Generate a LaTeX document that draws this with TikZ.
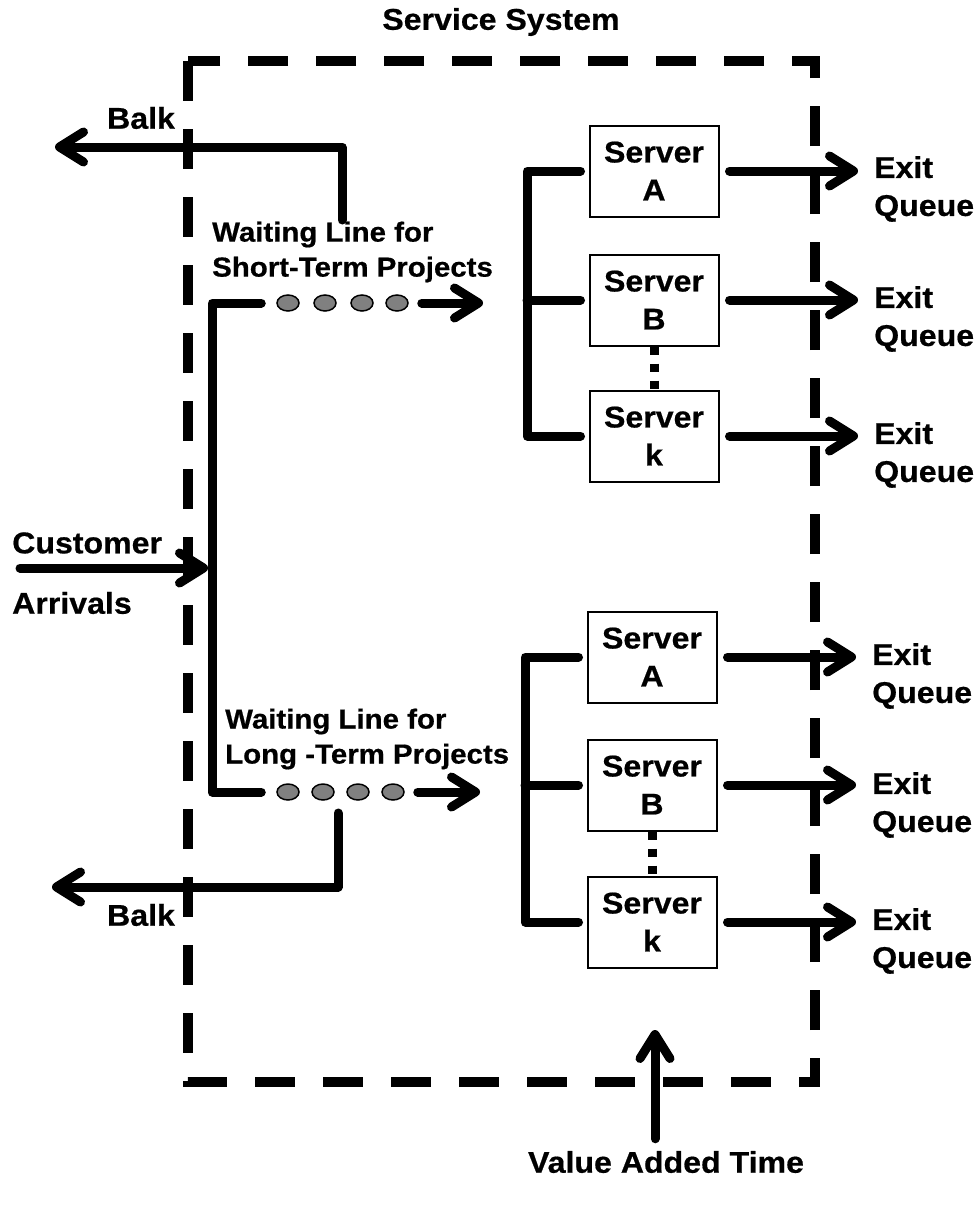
\documentclass[tikz,border=0pt]{standalone}
\usepackage{fontspec}
\setmainfont{Liberation Sans}[FakeStretch=1.07, BoldFeatures={FakeBold=0.6}]
\usetikzlibrary{arrows.meta,shapes.geometric}
\definecolor{qgray}{RGB}{128,128,128}
\begin{document}
\begin{tikzpicture}[x=1pt,y=-1pt,
  txt/.style={font=\fontsize{30}{38}\selectfont\bfseries, inner sep=0pt},
  line/.style={line width=9pt, line cap=round, line join=round},
  arr/.style={line, -{Straight Barb[length=24pt,width=30pt,line cap=round,line join=round]}},
  server/.style={draw, line width=2pt, minimum width=129pt, minimum height=91pt, align=center,
    font=\fontsize{30}{38}\selectfont\bfseries, inner sep=0pt},
  qdot/.style={ellipse, draw, line width=1.5pt, fill=qgray, minimum width=22pt, minimum height=16pt, inner sep=0pt},
  wait/.style={txt, align=left, anchor=west, font=\fontsize{27.5}{35}\selectfont\bfseries},
  exitlbl/.style={txt, align=left, anchor=west},
  sysbox/.style={line width=10pt, dash pattern=on 40pt off 28pt},
  vdots/.style={line width=9pt, dash pattern=on 8pt off 9pt}
]
\useasboundingbox (0,0) rectangle (978,1207);

% system boundary
\draw[sysbox] (188,61) rectangle (815,1082);
\node[txt] (title) at (501,22) {Service System};

% ---------- upper servers ----------
\node[server] (uA) at (654,171) {Server\\A};
\node[server] (uB) at (654,300) {Server\\B};
\node[server] (uK) at (654,436) {Server\\k};
\node[exitlbl] (ueA) at (874,189) {Exit\\Queue};
\node[exitlbl] (ueB) at (874,319) {Exit\\Queue};
\node[exitlbl] (ueK) at (874,455) {Exit\\Queue};
\draw[arr, shorten <=10pt, shorten >=16pt] (uA.east) -- (uA.east -| ueA.west);
\draw[arr, shorten <=10pt, shorten >=16pt] (uB.east) -- (uB.east -| ueB.west);
\draw[arr, shorten <=10pt, shorten >=16pt] (uK.east) -- (uK.east -| ueK.west);
\draw[vdots] (uB.south) -- (uK.north);
\coordinate (ubr) at (527,300);
\draw[line] ([xshift=-8pt]uA.west) -| (ubr) |- ([xshift=-8pt]uK.west);
\draw[line] (ubr) -- ([xshift=-8pt]uB.west);

% ---------- lower servers ----------
\node[server] (lA) at (652,657) {Server\\A};
\node[server] (lB) at (652,785) {Server\\B};
\node[server] (lK) at (652,922) {Server\\k};
\node[exitlbl] (leA) at (872,676) {Exit\\Queue};
\node[exitlbl] (leB) at (872,805) {Exit\\Queue};
\node[exitlbl] (leK) at (872,941) {Exit\\Queue};
\draw[arr, shorten <=10pt, shorten >=16pt] (lA.east) -- (lA.east -| leA.west);
\draw[arr, shorten <=10pt, shorten >=16pt] (lB.east) -- (lB.east -| leB.west);
\draw[arr, shorten <=10pt, shorten >=16pt] (lK.east) -- (lK.east -| leK.west);
\draw[vdots] (lB.south) -- (lK.north);
\coordinate (lbr) at (525,785);
\draw[line] ([xshift=-8pt]lA.west) -| (lbr) |- ([xshift=-8pt]lK.west);
\draw[line] (lbr) -- ([xshift=-8pt]lB.west);

% ---------- waiting lines ----------
\node[qdot] (cU1) at (288,303) {};
\node[qdot] (cU2) at (325,303) {};
\node[qdot] (cU3) at (362,303) {};
\node[qdot] (cU4) at (397,303) {};
\node[qdot] (cL1) at (288,792) {};
\node[qdot] (cL2) at (323,792) {};
\node[qdot] (cL3) at (358,792) {};
\node[qdot] (cL4) at (393,792) {};
\node[wait] (wU) at (212,252) {Waiting Line for\\Short-Term Projects};
\node[wait] (wL) at (225,739) {Waiting Line for\\Long -Term Projects};
\coordinate (jL) at (212,792);
\draw[line] ([xshift=-15pt]cU1.west) -| (jL) -- ([xshift=-15pt]cL1.west);
\coordinate (qU) at (483,303);
\coordinate (qL) at (480,792);
\draw[arr] ([xshift=13pt]cU4.east) -- (qU);
\draw[arr] ([xshift=13pt]cL4.east) -- (qL);

% ---------- arrivals ----------
\node[txt, anchor=west] (cust) at (12,543) {Customer};
\node[txt, anchor=west] (arrv) at (12,603) {Arrivals};
\coordinate (aS) at (20,568);
\coordinate (aE) at (208,568);
\draw[arr] (aS) -- (aE);

% ---------- balks ----------
\node[txt] (balkU) at (141,118) {Balk};
\node[txt] (balkL) at (141,915) {Balk};
\coordinate (bU1) at (342,220);
\coordinate (bU2) at (342,147);
\coordinate (bUt) at (55,147);
\draw[arr] (bU1) -- (bU2) -- (bUt);
\coordinate (bL1) at (338,813);
\coordinate (bL2) at (338,887);
\coordinate (bLt) at (52,887);
\draw[arr] (bL1) -- (bL2) -- (bLt);

% ---------- value added time ----------
\node[txt] (va) at (666,1162) {Value Added Time};
\coordinate (vaT) at (655,1030);
\draw[arr, shorten <=12pt] (va.north -| vaT) -- (vaT);
\end{tikzpicture}
\end{document}
